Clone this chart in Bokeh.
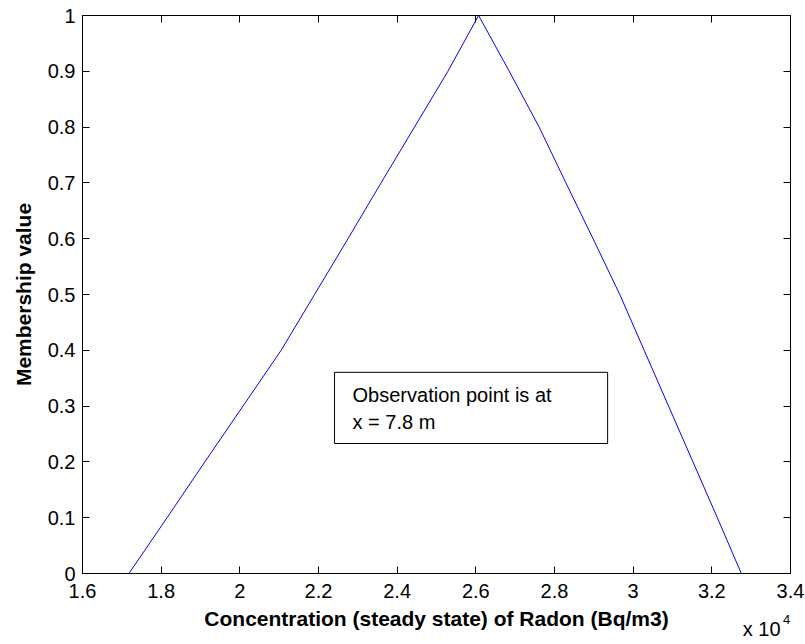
from bokeh.plotting import figure
from bokeh.models import LinearAxis, FixedTicker, CustomJSTickFormatter, Range1d
from bokeh.core.properties import value
from bokeh.embed import file_html
from bokeh.resources import INLINE

# ---- data ----
membership = [0.0, 0.1, 0.2, 0.3, 0.4, 0.5, 0.6, 0.7, 0.8, 0.9, 1.0,
              0.9, 0.8, 0.7, 0.6, 0.5, 0.4, 0.3, 0.2, 0.1, 0.0]
concentration = [17180, 18150, 19110, 20080, 21050, 21900, 22750, 23590, 24440, 25290, 26070,
                 26850, 27610, 28290, 28980, 29660, 30280, 30900, 31520, 32140, 32750]
x_ticks = [16000, 18000, 20000, 22000, 24000, 26000, 28000, 30000, 32000, 34000]
y_ticks = [0, 0.1, 0.2, 0.3, 0.4, 0.5, 0.6, 0.7, 0.8, 0.9, 1.0]
annotation_lines = ["Observation point is at", "x = 7.8 m"]
x_label = "Concentration (steady state) of Radon (Bq/m3)"
y_label = "Membership value"
exponent_base = "x 10"
exponent_power = "4"

FONT = "Liberation Sans"

p = figure(width=805, height=644, output_backend="svg", toolbar_location=None,
           x_range=Range1d(16000, 34000), y_range=Range1d(0, 1),
           min_border_left=82, min_border_right=15, min_border_top=15, min_border_bottom=71,
           background_fill_color="white", border_fill_color="white")
p.xgrid.visible = False
p.ygrid.visible = False
p.outline_line_color = "black"

xfmt = CustomJSTickFormatter(code="return String(+(tick/10000).toFixed(2));")
yfmt = CustomJSTickFormatter(code="return String(+tick.toFixed(2));")

for ax in (p.xaxis[0], p.yaxis[0]):
    ax.major_tick_in = 7
    ax.major_tick_out = 0
    ax.minor_tick_in = 0
    ax.minor_tick_out = 0
    ax.axis_line_color = "black"
    ax.major_tick_line_color = "black"
    ax.major_label_text_font = FONT
    ax.major_label_text_font_size = "20px"
    ax.major_label_text_color = "black"
    ax.axis_label_text_font = FONT
    ax.axis_label_text_font_size = "21px"
    ax.axis_label_text_font_style = "bold"
    ax.axis_label_text_color = "black"

p.xaxis[0].ticker = FixedTicker(ticks=x_ticks)
p.xaxis[0].formatter = xfmt
p.xaxis[0].axis_label = x_label
p.xaxis[0].major_label_standoff = 10
p.xaxis[0].axis_label_standoff = 6

p.yaxis[0].ticker = FixedTicker(ticks=y_ticks)
p.yaxis[0].formatter = yfmt
p.yaxis[0].axis_label = y_label
p.yaxis[0].major_label_standoff = 7
p.yaxis[0].axis_label_standoff = 10

top = LinearAxis(ticker=FixedTicker(ticks=x_ticks), major_tick_in=7, major_tick_out=0,
                 minor_tick_in=0, minor_tick_out=0, major_label_text_font_size="0px",
                 major_label_standoff=0, axis_line_color="black")
right = LinearAxis(ticker=FixedTicker(ticks=y_ticks), major_tick_in=7, major_tick_out=0,
                   minor_tick_in=0, minor_tick_out=0, major_label_text_font_size="0px",
                   major_label_standoff=0, axis_line_color="black")
p.add_layout(top, "above")
p.add_layout(right, "right")

# scale-factor text "x 10^4" drawn as label-only axes below the x axis
exp_base_axis = LinearAxis(ticker=FixedTicker(ticks=[33267]),
                           formatter=CustomJSTickFormatter(code="return '%s';" % exponent_base),
                           axis_line_color=None, major_tick_line_color=None,
                           minor_tick_line_color=None, major_tick_in=0, major_tick_out=0,
                           minor_tick_in=0, minor_tick_out=0,
                           major_label_text_font=FONT, major_label_text_font_size="20px",
                           major_label_text_color="black", major_label_standoff=-15)
exp_pow_axis = LinearAxis(ticker=FixedTicker(ticks=[33903]),
                          formatter=CustomJSTickFormatter(code="return '%s';" % exponent_power),
                          axis_line_color=None, major_tick_line_color=None,
                          minor_tick_line_color=None, major_tick_in=0, major_tick_out=0,
                          minor_tick_in=0, minor_tick_out=0,
                          major_label_text_font=FONT, major_label_text_font_size="13px",
                          major_label_text_color="black", major_label_standoff=-28)
p.add_layout(exp_base_axis, "below")
p.add_layout(exp_pow_axis, "below")

p.line(concentration, membership, line_color="#0000ff", line_width=1)

# annotation box
p.quad(left=[22408], right=[29351], bottom=[0.233], top=[0.3605],
       fill_color="white", line_color="black", line_width=1)
p.text(x=[22866, 22866], y=[0.319, 0.271], text=annotation_lines,
       text_font=value(FONT), text_font_size="20px", text_color="black",
       text_baseline="middle", text_align="left")

open("out.html", "w").write(file_html(p, INLINE))
